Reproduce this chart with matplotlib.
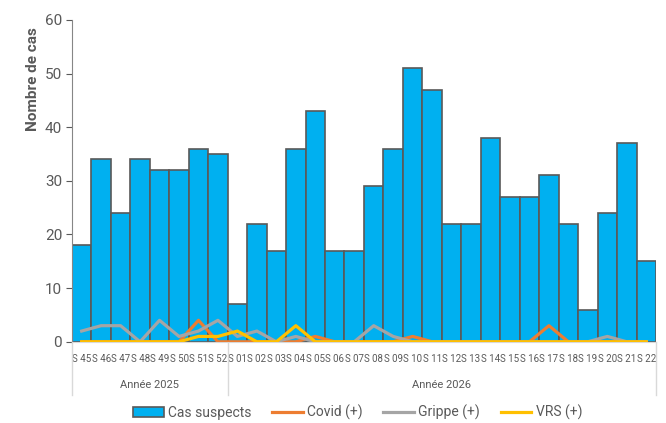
import matplotlib.pyplot as plt
import matplotlib.transforms as mtransforms
from matplotlib.patches import Patch
from matplotlib.lines import Line2D
import numpy as np

semaines_2025 = ["S 45", "S 46", "S 47", "S 48", "S 49", "S 50", "S 51", "S 52"]
semaines_2026 = ["S 01", "S 02", "S 03", "S 04", "S 05", "S 06", "S 07", "S 08",
                 "S 09", "S 10", "S 11", "S 12", "S 13", "S 14", "S 15", "S 16",
                 "S 17", "S 18", "S 19", "S 20", "S 21", "S 22"]
semaines = semaines_2025 + semaines_2026

cas_suspects = [18, 34, 24, 34, 32, 32, 36, 35,
                7, 22, 17, 36, 43, 17, 17, 29, 36, 51, 47, 22, 22, 38,
                27, 27, 31, 22, 6, 24, 37, 15]
covid = [0, 0, 0, 0, 0, 0, 4, 0,
         0, 0, 0, 0, 1, 0, 0, 0, 0, 1, 0, 0, 0, 0,
         0, 0, 3, 0, 0, 0, 0, 0]
grippe = [2, 3, 3, 0, 4, 1, 2, 4,
          1, 2, 0, 1, 0, 0, 0, 3, 1, 0, 0, 0, 0, 0,
          0, 0, 0, 0, 0, 1, 0, 0]
vrs = [0, 0, 0, 0, 0, 0, 1, 1,
       2, 0, 0, 3, 0, 0, 0, 0, 0, 0, 0, 0, 0, 0,
       0, 0, 0, 0, 0, 0, 0, 0]

plt.rcParams['font.family'] = ['Roboto', 'DejaVu Sans']
gris_texte = '#595959'

fig = plt.figure(figsize=(6.66, 4.23), dpi=100)
ax = fig.add_axes([0.108, 0.192, 0.877, 0.761])

x = np.arange(len(semaines))
ax.bar(x, cas_suspects, width=1.0, color='#00B0F0', edgecolor='#595959', linewidth=1.2, zorder=2)
ax.plot(x, covid, color='#ED7D31', linewidth=2.3, zorder=3)
ax.plot(x, grippe, color='#A5A5A5', linewidth=2.3, zorder=3)
ax.plot(x, vrs, color='#FFC000', linewidth=2.3, zorder=4)

ax.set_xlim(-0.5, len(semaines) - 0.5)
ax.set_ylim(0, 60)
ax.set_yticks(range(0, 61, 10))
ax.tick_params(axis='y', colors=gris_texte, labelsize=11, length=4, direction='out', pad=3)
ax.tick_params(axis='x', length=0, pad=9)
ax.set_xticks(x)
ax.set_xticklabels(semaines, fontsize=7, color=gris_texte)

for s in ['top', 'right']:
    ax.spines[s].set_visible(False)
ax.spines['left'].set_color('#868686')
ax.spines['bottom'].set_color('#D9D9D9')

# séparateurs des années sous l'axe
trans = mtransforms.blended_transform_factory(ax.transData, ax.transAxes)
for b in [-0.5, len(semaines_2025) - 0.5, len(semaines) - 0.5]:
    ax.add_line(Line2D([b, b], [0, -0.165], transform=trans, color='#D9D9D9',
                       linewidth=1, clip_on=False))
ax.text((len(semaines_2025) - 1) / 2, -0.133, "Année 2025", transform=trans,
        ha='center', va='center', fontsize=8, color=gris_texte)
ax.text(len(semaines_2025) + (len(semaines_2026) - 1) / 2, -0.133, "Année 2026",
        transform=trans, ha='center', va='center', fontsize=8, color=gris_texte)

fig.text(0.05, 0.937, "Nombre de cas", rotation=90, ha='center', va='top',
         fontsize=11, fontweight='bold', color=gris_texte)

handles = [Patch(facecolor='#00B0F0', edgecolor='#595959', linewidth=1.2),
           Line2D([], [], color='#ED7D31', linewidth=2.3),
           Line2D([], [], color='#A5A5A5', linewidth=2.3),
           Line2D([], [], color='#FFC000', linewidth=2.3)]
fig.legend(handles, ["Cas suspects", "Covid (+)", "Grippe (+)", "VRS (+)"],
           loc='center', bbox_to_anchor=(0.537, 0.025), ncol=4, frameon=False,
           fontsize=10, labelcolor=gris_texte, handlelength=2.2, handletextpad=0.3,
           columnspacing=1.5)

fig.savefig('out.png', dpi=100)
